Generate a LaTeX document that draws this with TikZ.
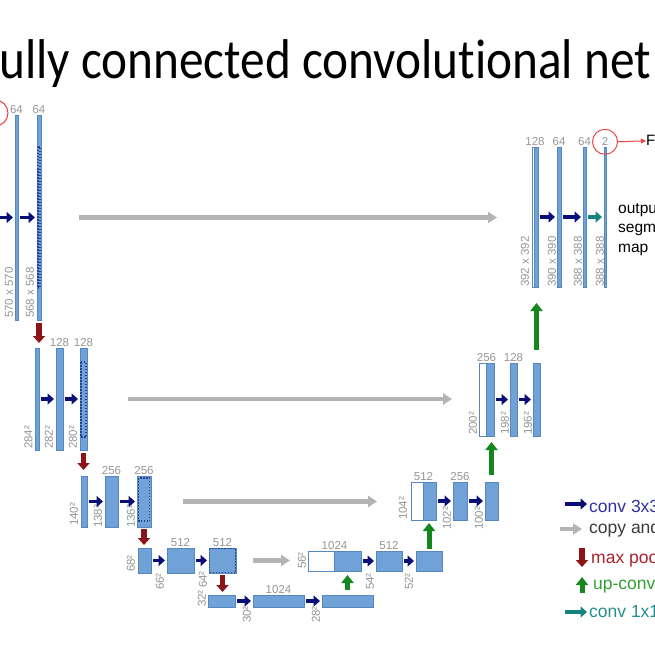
\documentclass[tikz,border=0pt]{standalone}
\usepackage{fontspec}
\setmainfont{Liberation Sans}
\newfontfamily\titlefont[Ligatures=NoCommon]{Carlito}
\usepackage{tikz}
\usetikzlibrary{arrows.meta,positioning,fit,calc}
\definecolor{barblue}{RGB}{112,162,216}
\definecolor{barline}{RGB}{85,135,195}
\definecolor{lblgrey}{RGB}{150,150,150}
\definecolor{convblue}{RGB}{10,15,120}
\definecolor{copygrey}{RGB}{180,180,180}
\definecolor{poolred}{RGB}{140,20,25}
\definecolor{upgreen}{RGB}{20,135,30}
\definecolor{finalteal}{RGB}{20,130,125}
\definecolor{cropblue}{RGB}{40,65,145}
\definecolor{convtxt}{RGB}{50,50,160}
\definecolor{copytxt}{RGB}{60,60,60}
\definecolor{pooltxt}{RGB}{170,35,45}
\definecolor{uptxt}{RGB}{50,160,50}
\definecolor{tealtxt}{RGB}{40,140,140}
\definecolor{markred}{RGB}{235,70,70}
\tikzset{
  bar/.style={draw=barline, line width=0.5pt, fill=barblue, inner sep=0pt, outer sep=0pt},
  copybar/.style={draw=barline, line width=0.5pt, fill=white, inner sep=0pt, outer sep=0pt},
  chlbl/.style={text=lblgrey, font=\fontsize{11.5}{12}\selectfont, inner sep=1pt, anchor=south},
  dimlbl/.style={text=lblgrey, font=\fontsize{11.5}{12}\selectfont, inner sep=0pt, rotate=90, anchor=west},
  cropdots/.style={draw=cropblue, line width=1.5pt, dash pattern=on 1.5pt off 1.5pt},
  convarrow/.style={draw=convblue, line width=3.5pt, -{Triangle[length=6.5pt,width=11pt]}, shorten <=2pt, shorten >=2pt},
  finalarrow/.style={convarrow, draw=finalteal},
  copyarrow/.style={draw=copygrey, line width=4.5pt, -{Triangle[length=9pt,width=11pt]}},
  poolarrow/.style={draw=poolred, line width=5.5pt, -{Triangle[length=7pt,width=12pt]}},
  uparrow/.style={draw=upgreen, line width=5pt, -{Triangle[length=8pt,width=12pt]}},
  lgtext/.style={font=\fontsize{17.5}{19}\selectfont, inner sep=0pt, anchor=base west},
}

\begin{document}
\begin{tikzpicture}[x=1pt, y=-1pt]
    \useasboundingbox (0,0) rectangle (655,655);
    \clip (0,0) rectangle (655,655);
    \fill[white] (0,0) rectangle (655,655);

    % Title
    \node[font=\titlefont\fontsize{56}{60}\selectfont, inner sep=0pt, anchor=base west, xscale=0.88] (title) at (-1,79) {ully connected convolutional net};

    % Contracting path, level 1
    \coordinate (inl1) at (-20,217.5);
    \node[bar, fit={(15,115) (18,320)}] (l1a) {};
    \node[bar, fit={(37,115) (41,320)}] (l1b) {};
    \draw[cropdots] (37.8,147) rectangle (40.2,288);
    \draw[markred, line width=1pt] (-5,113) circle (13);
    \node[chlbl] at (l1a.north) {64};
    \node[chlbl] at (l1b.north) {64};
    \node[dimlbl] at ($(l1a.south west)+(-6,-2)$) {570 x 570};
    \node[dimlbl] at ($(l1b.south west)+(-7,-2)$) {568 x 568};
    \draw[convarrow] (inl1) -- (l1a.west);
    \draw[convarrow] (l1a.east) -- (l1b.west);

    % Level 2
    \node[bar, fit={(35.5,348) (39,450)}] (l2a) {};
    \node[bar, fit={(56,348) (63,450)}] (l2b) {};
    \node[bar, fit={(80,348) (87,450)}] (l2c) {};
    \draw[cropdots] (81,362) rectangle (86,437);
    \node[chlbl] at (l2b.north) {128};
    \node[chlbl] at (l2c.north) {128};
    \node[dimlbl] at ($(l2a.south west)+(-7,-1)$) {284²};
    \node[dimlbl] at ($(l2b.south west)+(-7,-1)$) {282²};
    \node[dimlbl] at ($(l2c.south west)+(-7,-1)$) {280²};
    \draw[convarrow] (l2a.east) -- (l2b.west);
    \draw[convarrow] (l2b.east) -- (l2c.west);

    % Level 3
    \node[bar, fit={(81,476) (87,527)}] (l3a) {};
    \node[bar, fit={(105,476) (118,527)}] (l3b) {};
    \node[bar, fit={(137,476) (151,527)}] (l3c) {};
    \draw[cropdots] (138.5,478) rectangle (149.5,521);
    \node[chlbl] at (l3b.north) {256};
    \node[chlbl] at (l3c.north) {256};
    \node[dimlbl] at ($(l3a.south west)+(-7,-1)$) {140²};
    \node[dimlbl] at ($(l3b.south west)+(-7,1)$) {138²};
    \node[dimlbl] at ($(l3c.south west)+(-6,1)$) {136²};
    \draw[convarrow] (l3a.east) -- (l3b.west);
    \draw[convarrow] (l3b.east) -- (l3c.west);

    % Level 4
    \node[bar, fit={(138,548) (151,573)}] (l4a) {};
    \node[bar, fit={(167,548) (194,573)}] (l4b) {};
    \node[bar, fit={(209,548) (236,573)}] (l4c) {};
    \draw[cropdots] (209.5,548.5) rectangle (235.5,572.5);
    \node[chlbl] at (l4b.north) {512};
    \node[chlbl] at (l4c.north) {512};
    \node[dimlbl] at ($(l4a.south west)+(-7,-1)$) {68²};
    \node[dimlbl] at ($(l4b.south west)+(-7,17)$) {66²};
    \node[dimlbl] at ($(l4c.south west)+(-6,15)$) {64²};
    \draw[convarrow] (l4a.east) -- (l4b.west);
    \draw[convarrow] (l4b.east) -- (l4c.west);

    % Level 5 (bottom)
    \node[bar, fit={(208,595) (235,607)}] (l5a) {};
    \node[bar, fit={(253,595) (304,607)}] (l5b) {};
    \node[bar, fit={(322,595) (373,607)}] (l5c) {};
    \node[chlbl] at (l5b.north) {1024};
    \node[dimlbl] at ($(l5a.south west)+(-6,0)$) {32²};
    \node[dimlbl] at ($(l5b.south west)+(-6,16)$) {30²};
    \node[dimlbl] at ($(l5c.south west)+(-6,16)$) {28²};
    \draw[convarrow] (l5a.east) -- (l5b.west);
    \draw[convarrow] (l5b.east) -- (l5c.west);

    % Expansive path, level 4
    \node[copybar, fit={(308,551) (334,571)}] (u4a) {};
    \node[bar, fit={(334,551) (361,571)}] (u4b) {};
    \node[bar, fit={(376,551) (402,571)}] (u4c) {};
    \node[bar, fit={(416,551) (442,571)}] (u4d) {};
    \node[chlbl] at ($(u4a.north west)!0.5!(u4b.north east)$) {1024};
    \node[chlbl] at (u4c.north) {512};
    \node[dimlbl] at ($(u4a.south west)+(-6,-2)$) {56²};
    \node[dimlbl] at ($(u4c.south west)+(-6,19)$) {54²};
    \node[dimlbl] at ($(u4d.south west)+(-7,19)$) {52²};
    \draw[convarrow] (u4b.east) -- (u4c.west);
    \draw[convarrow] (u4c.east) -- (u4d.west);

    % Level 3
    \node[copybar, fit={(411,482) (423,520)}] (u3a) {};
    \node[bar, fit={(423,482) (436,520)}] (u3b) {};
    \node[bar, fit={(453,482) (467,520)}] (u3c) {};
    \node[bar, fit={(485,482) (498,520)}] (u3d) {};
    \node[chlbl] at ($(u3a.north west)!0.5!(u3b.north east)$) {512};
    \node[chlbl] at (u3c.north) {256};
    \node[dimlbl] at ($(u3a.south west)+(-8,0)$) {104²};
    \node[dimlbl] at ($(u3c.south west)+(-6,10)$) {102²};
    \node[dimlbl] at ($(u3d.south west)+(-6,10)$) {100²};
    \draw[convarrow] (u3b.east) -- (u3c.west);
    \draw[convarrow] (u3c.east) -- (u3d.west);

    % Level 2
    \node[copybar, fit={(479,363) (486,436)}] (u2a) {};
    \node[bar, fit={(486,363) (494,436)}] (u2b) {};
    \node[bar, fit={(510,363) (517,436)}] (u2c) {};
    \node[bar, fit={(533,363) (540,436)}] (u2d) {};
    \node[chlbl] at ($(u2a.north west)!0.5!(u2b.north east)$) {256};
    \node[chlbl] at (u2c.north) {128};
    \node[dimlbl] at ($(u2a.south west)+(-6,-1)$) {200²};
    \node[dimlbl] at ($(u2c.south west)+(-5,-1)$) {198²};
    \node[dimlbl] at ($(u2d.south west)+(-5,-1)$) {196²};
    \draw[convarrow] (u2b.east) -- (u2c.west);
    \draw[convarrow] (u2c.east) -- (u2d.west);

    % Level 1
    \node[copybar, fit={(532,147) (534,287)}] (u1a) {};
    \node[bar, fit={(534,147) (538,287)}] (u1b) {};
    \node[bar, fit={(557,147) (561,287)}] (u1c) {};
    \node[bar, fit={(583,147) (586,287)}] (u1d) {};
    \node[bar, fit={(604,147) (606,287)}] (u1e) {};
    \node[chlbl] at ($(u1a.north west)!0.5!(u1b.north east)$) {128};
    \node[chlbl] at (u1c.north) {64};
    \node[chlbl] at (u1d.north) {64};
    \node[chlbl] (lblout) at (u1e.north) {2};
    \node[dimlbl] at ($(u1a.south west)+(-7,0)$) {392 x 392};
    \node[dimlbl] at ($(u1c.south west)+(-5,0)$) {390 x 390};
    \node[dimlbl] at ($(u1d.south west)+(-5,0)$) {388 x 388};
    \node[dimlbl] at ($(u1e.south west)+(-4,0)$) {388 x 388};
    \draw[convarrow] (u1b.east) -- (u1c.west);
    \draw[convarrow] (u1c.east) -- (u1d.west);
    \draw[finalarrow] (u1d.east) -- (u1e.west);

    % Output marker and text
    \draw[markred, line width=1pt] (lblout.center) circle (12.5);
    \node[font=\fontsize{15}{16}\selectfont, inner sep=0pt, anchor=base west] (ftxt) at (646,146) {F};
    \draw[markred, line width=1pt, -{Triangle[length=5pt,width=5pt]}] ($(lblout.center)+(12.5,0)$) -- (ftxt.west);
    \node[font=\fontsize{15.5}{19.5}\selectfont, inner sep=0pt, align=left, anchor=base west] (outtxt) at (618,252) {outpu\\segm\\map};

    % Copy and crop
    \draw[copyarrow, shorten <=38pt, shorten >=35pt] (l1b.east) -- (l1b.east -| u1a.west);
    \draw[copyarrow, shorten <=41pt, shorten >=27pt] (l2c.east) -- (l2c.east -| u2a.west);
    \draw[copyarrow, shorten <=32pt, shorten >=34pt] (l3c.east) -- (l3c.east -| u3a.west);
    \draw[copyarrow, shorten <=17pt, shorten >=18pt] (l4c.east) -- (l4c.east -| u4a.west);

    % Max pool
    \draw[poolarrow, shorten <=3pt, shorten >=5pt] (l1b.south) -- (l1b.south |- l2a.north);
    \draw[poolarrow, shorten <=3pt, shorten >=6pt] (l2c.south) -- (l2c.south |- l3a.north);
    \draw[poolarrow, shorten <=2pt, shorten >=3pt] (l3c.south) -- (l3c.south |- l4a.north);
    \draw[poolarrow, shorten <=2pt, shorten >=3pt] (l4c.south) -- (l4c.south |- l5a.north);

    % Up-conv
    \draw[uparrow, shorten <=5pt, shorten >=4pt] (l5c.north) -- (l5c.north |- u4b.south);
    \draw[uparrow, shorten <=2pt, shorten >=3pt] (u4d.north) -- (u4d.north |- u3b.south);
    \draw[uparrow, shorten <=7pt, shorten >=6pt] (u3d.north) -- (u3d.north |- u2b.south);
    \draw[uparrow, shorten <=13pt, shorten >=16pt] (u2d.north) -- (u2d.north |- u1b.south);

    % Legend
    \node[lgtext, text=convtxt] (lgconv) at (589,512) {conv 3x3};
    \node[lgtext, text=copytxt] (lgcopy) at (589,533) {copy and};
    \node[lgtext, text=pooltxt] (lgpool) at (591,563) {max poo};
    \node[lgtext, text=uptxt] (lgup) at (593,589) {up-conv};
    \node[lgtext, text=tealtxt] (lgfinal) at (589,617) {conv 1x1};
    \draw[convarrow] (563,504) -- (589,504);
    \draw[copyarrow] (560,529) -- (582,529);
    \draw[poolarrow] (582,548) -- (582,567);
    \draw[uparrow] (582,593) -- (582,577);
    \draw[finalarrow] (563,612) -- (589,612);
\end{tikzpicture}
\end{document}
